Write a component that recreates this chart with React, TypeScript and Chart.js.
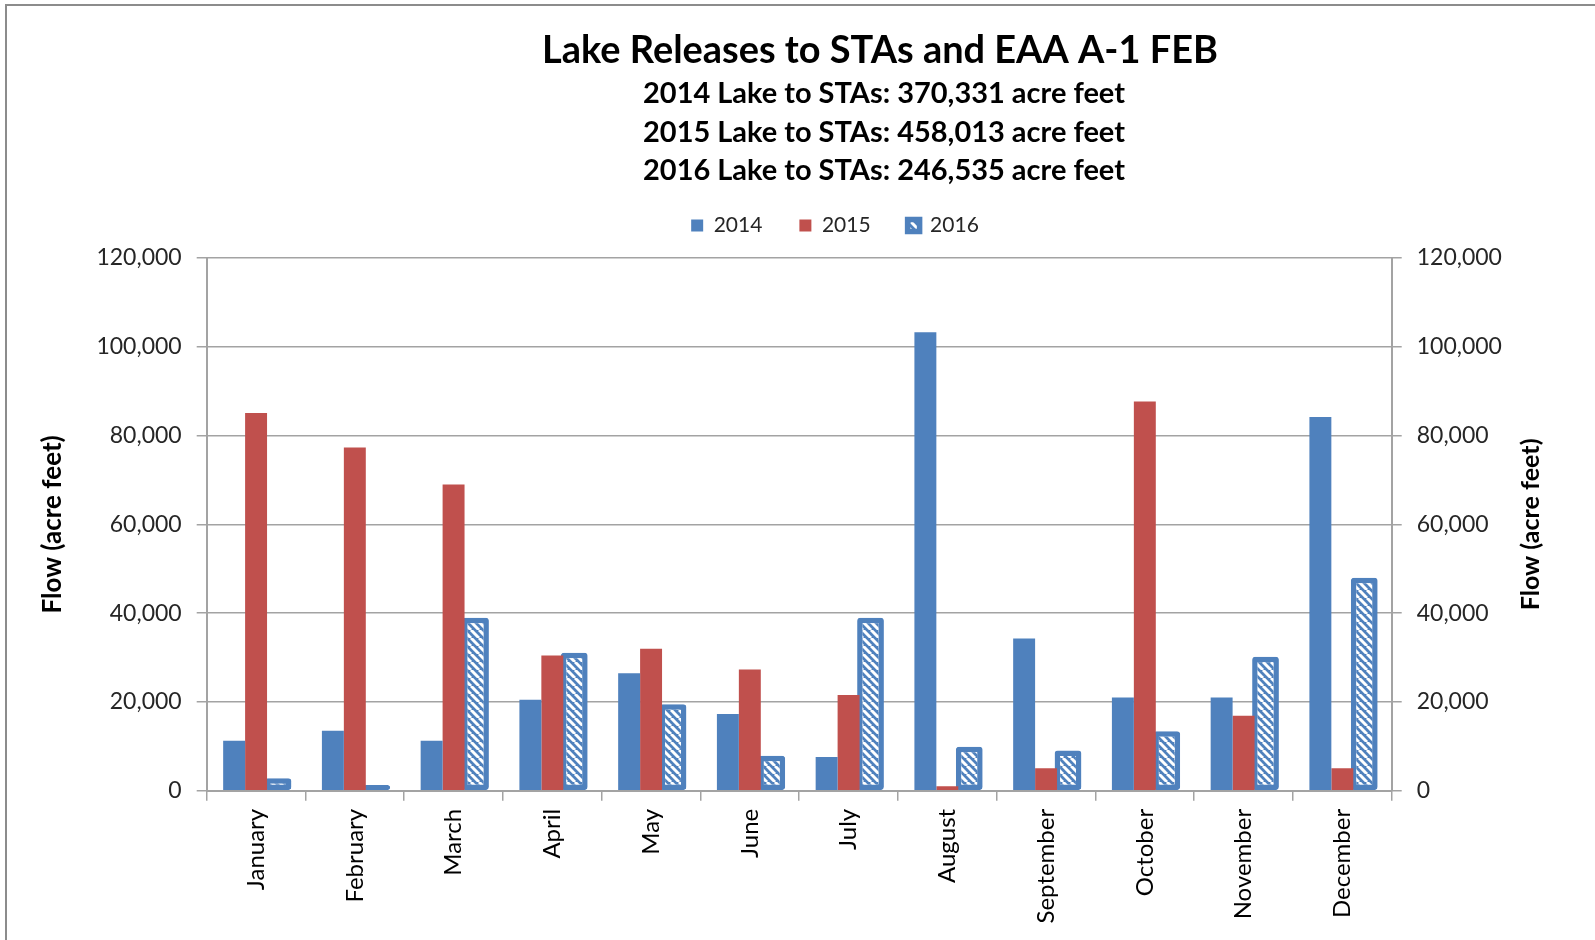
import React, { useEffect, useRef } from 'react';
import { Chart, registerables } from 'chart.js';

Chart.register(...registerables);

const months = ['January', 'February', 'March', 'April', 'May', 'June', 'July', 'August', 'September', 'October', 'November', 'December'];
const seriesNames = ['2014', '2015', '2016'];
const flow2014 = [11300, 13500, 11300, 20500, 26500, 17300, 7600, 103300, 34300, 21000, 21000, 84200];
const flow2015 = [85100, 77300, 69000, 30500, 32000, 27300, 21600, 1000, 5100, 87700, 16900, 5100];
const flow2016 = [2800, 1300, 39000, 31100, 19500, 7900, 39000, 9900, 9100, 13400, 30200, 48000];
const titleText = 'Lake Releases to STAs and EAA A-1 FEB';
const subtitleLines = [
  '2014 Lake to STAs: 370,331 acre feet',
  '2015 Lake to STAs: 458,013 acre feet',
  '2016 Lake to STAs: 246,535 acre feet',
];
const axisTitle = 'Flow (acre feet)';
const yMin = 0;
const yMax = 120000;
const yStep = 20000;

const FONT = 'Lato';
const BLUE = '#4F81BD';
const RED = '#C0504D';
const GRID = '#a3a3a3';
const TEXT = '#262626';

function makeHatch(): CanvasPattern | string {
  const s = 8;
  const c = document.createElement('canvas');
  c.width = s;
  c.height = s;
  const g = c.getContext('2d');
  if (!g) return BLUE;
  g.fillStyle = BLUE;
  g.fillRect(0, 0, s, s);
  g.strokeStyle = '#ffffff';
  g.lineWidth = 3;
  g.beginPath();
  for (let k = -1; k <= 1; k++) {
    g.moveTo(k * s, 0);
    g.lineTo(k * s + s, s);
  }
  g.stroke();
  const p = g.createPattern(c, 'repeat');
  return p || BLUE;
}

function fitSize(ctx: CanvasRenderingContext2D, text: string, weight: string, target: number) {
  ctx.font = `${weight} 100px ${FONT}`;
  const w = ctx.measureText(text).width;
  return (100 * target) / w;
}

const titleBlock = {
  id: 'titleBlock',
  afterDraw(chart: any) {
    const ctx: CanvasRenderingContext2D = chart.ctx;
    ctx.save();
    ctx.fillStyle = '#000';
    ctx.textAlign = 'center';
    ctx.textBaseline = 'middle';
    const ts = fitSize(ctx, titleText, 'bold', 676);
    ctx.font = `bold ${ts}px ${FONT}`;
    ctx.fillText(titleText, 873, 45);
    const ss = fitSize(ctx, subtitleLines[0], 'bold', 482);
    ctx.font = `bold ${ss}px ${FONT}`;
    subtitleLines.forEach((line, i) => {
      ctx.fillText(line, 877, 87.6 + i * 38.7);
    });
    // right axis title, reading bottom to top like the left one
    const rs = fitSize(ctx, axisTitle, 'bold', 172);
    ctx.font = `bold ${rs}px ${FONT}`;
    const ca = chart.chartArea;
    ctx.translate(1524, (ca.top + ca.bottom) / 2);
    ctx.rotate(-Math.PI / 2);
    ctx.fillText(axisTitle, 0, 0);
    ctx.restore();
  },
};

export default function App() {
  const ref = useRef<HTMLCanvasElement | null>(null);

  useEffect(() => {
    if (!ref.current) return;
    const hatch = makeHatch();
    const chart = new Chart(ref.current, {
      type: 'bar',
      data: {
        labels: months,
        datasets: [
          {
            label: seriesNames[0],
            data: flow2014,
            backgroundColor: BLUE,
            borderWidth: 0,
            barPercentage: 1.0,
            categoryPercentage: 2 / 3,
            yAxisID: 'y',
          },
          {
            label: seriesNames[1],
            data: flow2015,
            backgroundColor: RED,
            borderWidth: 0,
            barPercentage: 1.0,
            categoryPercentage: 2 / 3,
            yAxisID: 'y',
          },
          {
            label: seriesNames[2],
            data: flow2016,
            backgroundColor: hatch as any,
            borderColor: BLUE,
            borderWidth: 5.5,
            borderSkipped: false,
            borderRadius: 3,
            barPercentage: 1.22,
            categoryPercentage: 2 / 3,
            yAxisID: 'y',
          },
        ],
      },
      options: {
        animation: false,
        responsive: false,
        maintainAspectRatio: false,
        layout: { padding: { top: 172, left: 0, right: 0, bottom: 0 } },
        plugins: {
          title: { display: false },
          tooltip: { enabled: false },
          legend: {
            display: true,
            position: 'top',
            labels: {
              boxWidth: 12,
              boxHeight: 12,
              padding: 37,
              color: TEXT,
              font: { family: FONT, size: 21 },
            },
          },
        },
        scales: {
          x: {
            type: 'category',
            position: 'bottom',
            offset: true,
            grid: {
              display: true,
              drawOnChartArea: false,
              drawTicks: true,
              tickLength: 10,
              color: GRID,
              lineWidth: 1.5,
              offset: true,
            },
            border: { display: true, color: GRID, width: 2 },
            ticks: {
              maxRotation: 90,
              minRotation: 90,
              autoSkip: false,
              padding: 8,
              color: '#000',
              font: { family: FONT, size: 24 },
            },
            afterFit: (s: any) => {
              s.height = 149.2;
            },
          },
          spacer: {
            type: 'linear',
            position: 'top',
            display: true,
            grid: { display: false, drawTicks: false },
            border: { display: false },
            ticks: { display: false },
            afterFit: (s: any) => {
              s.height = 12;
            },
          },
          y: {
            type: 'linear',
            position: 'left',
            min: yMin,
            max: yMax,
            ticks: {
              stepSize: yStep,
              padding: 15,
              color: TEXT,
              font: { family: FONT, size: 23 },
            },
            grid: {
              display: true,
              drawOnChartArea: true,
              drawTicks: true,
              tickLength: 10,
              color: GRID,
              lineWidth: 1.5,
            },
            border: { display: true, color: GRID, width: 2 },
            title: {
              display: true,
              text: axisTitle,
              color: '#000',
              font: { family: FONT, size: 26, weight: 'bold' },
              padding: { top: 30, bottom: 0 },
            },
            afterFit: (s: any) => {
              s.width = 199.7;
            },
          },
          y2: {
            type: 'linear',
            position: 'right',
            min: yMin,
            max: yMax,
            ticks: {
              stepSize: yStep,
              padding: 15,
              color: TEXT,
              font: { family: FONT, size: 23 },
            },
            grid: {
              display: true,
              drawOnChartArea: false,
              drawTicks: true,
              tickLength: 10,
              color: GRID,
              lineWidth: 1.5,
            },
            border: { display: true, color: GRID, width: 2 },
            afterFit: (s: any) => {
              s.width = 271.3;
            },
          },
        },
      } as any,
      plugins: [titleBlock],
    });
    return () => chart.destroy();
  }, []);

  return (
    <div
      style={{
        position: 'absolute',
        left: 0,
        top: 0,
        width: 1595,
        height: 940,
        overflow: 'hidden',
        background: '#ffffff',
      }}
    >
      <div
        style={{
          position: 'absolute',
          left: 5,
          top: 4,
          width: 1700,
          height: 1000,
          borderTop: '2px solid #8c8c8c',
          borderLeft: '2px solid #8c8c8c',
        }}
      />
      <canvas
        ref={ref}
        width={1656}
        height={934}
        style={{ position: 'absolute', left: 7, top: 6, width: 1656, height: 934 }}
      />
    </div>
  );
}
